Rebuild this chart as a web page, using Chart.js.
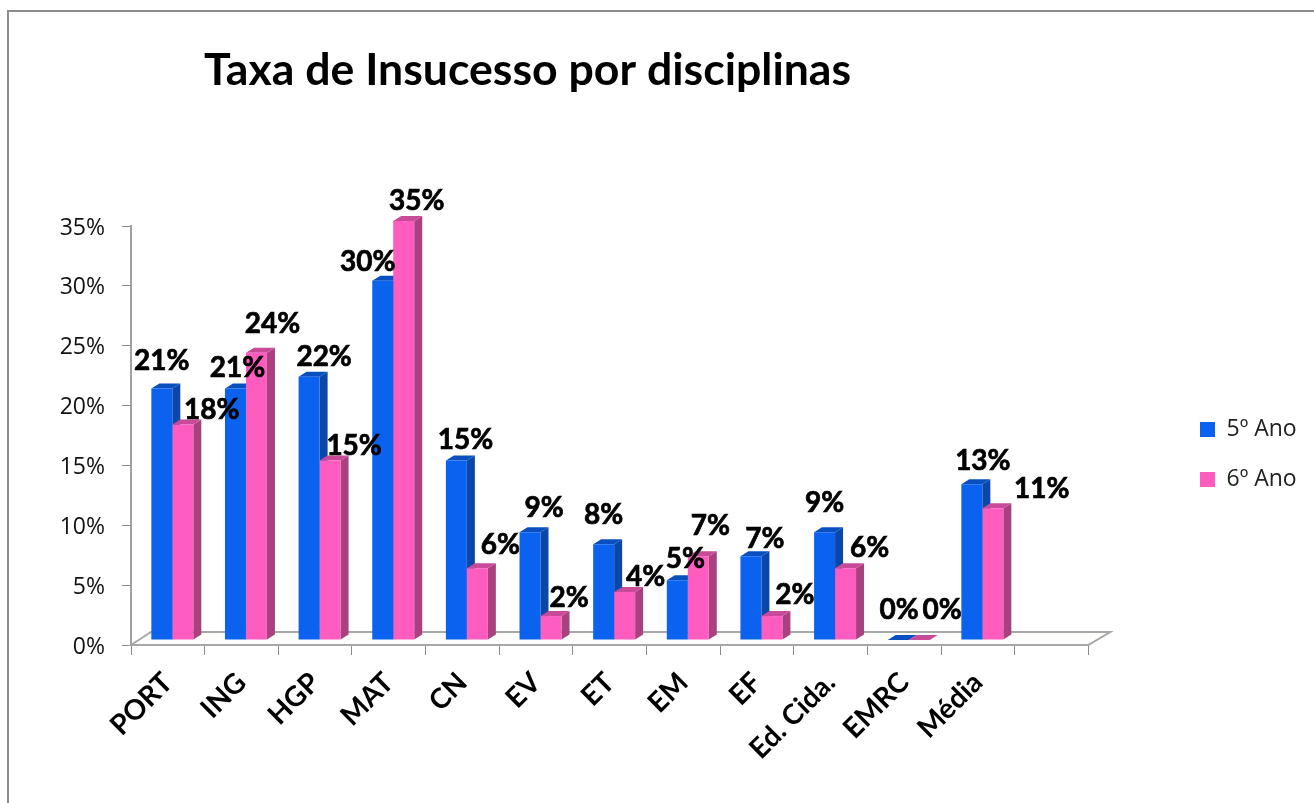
<!DOCTYPE html>
<html><head><meta charset="utf-8">
<script src="https://cdn.jsdelivr.net/npm/chart.js@4"></script>
<style>
html,body{margin:0;padding:0;background:#fff;overflow:hidden}
#frame{position:absolute;left:7px;top:10px;width:1320px;height:800px;border:2px solid #8c8c8c;box-sizing:border-box}
canvas{position:absolute;left:0;top:0}
</style></head><body>
<div id="frame"></div>
<canvas id="c" width="1314" height="803"></canvas>
<script>
const categories = ['PORT','ING','HGP','MAT','CN','EV','ET','EM','EF','Ed. Cida.','EMRC','Média',''];
const ano5 = [21,21,22,30,15,9,8,5,7,9,0,13,null];
const ano6 = [18,24,15,35,6,2,4,7,2,6,0,11,null];
const yTickStep = 5;
const chartTitle = 'Taxa de Insucesso por disciplinas';

const labelNudge = [
 [[0,-28],[2,-21],[15,-20],[-15,-19],[9,-20],[14,-24],[0,-29],[8,-21],[14,-17],[0,-29],[1,-30],[11,-23]],
 [[29,-15],[16,-29],[24,-14],[13,-20],[23,-23],[18,-18],[21,-15],[12,-30],[23,-21],[24,-20],[23,-30],[49,-19]]
];
const SHIFT = {x:4.5,y:-5}, DEPTH = {x:8,y:5};
const SIDE = ['#0a47a8','#a9417f'], TOP = ['#0a4fc0','#c94a98'];

const threeD = {
  id:'threeD',
  afterLayout(chart){
    chart.titleBlock.left = 204;
    const lg = chart.legend, w = lg.right-lg.left, h = lg.bottom-lg.top;
    lg.left = 1173; lg.right = lg.left+w+40;
    lg.top = 391; lg.bottom = lg.top+Math.max(h,160);
    const yS = chart.scales.y;
    if(!yS._nudged){
      const orig = yS.drawLabels;
      yS.drawLabels = function(a){ chart.ctx.save(); chart.ctx.translate(0,2); orig.call(this,a); chart.ctx.restore(); };
      yS._nudged = true;
    }
  },
  beforeDatasetsDraw(chart){
    const {ctx,chartArea:a} = chart;
    ctx.save();
    ctx.strokeStyle='#a8a8a8'; ctx.lineWidth=2; ctx.fillStyle='#fdfdfb';
    ctx.beginPath();
    ctx.moveTo(a.left,a.bottom); ctx.lineTo(a.left+20,a.bottom-13);
    ctx.lineTo(a.right+22,a.bottom-13); ctx.lineTo(a.right,a.bottom);
    ctx.closePath(); ctx.fill(); ctx.stroke();
    ctx.restore();
    ctx.save();
    ctx.translate(SHIFT.x,SHIFT.y);
    chart.data.datasets.forEach((ds,di)=>{
      chart.getDatasetMeta(di).data.forEach((el,i)=>{
        if(ds.data[i]===null) return;
        const l=el.x-el.width/2,r=el.x+el.width/2,t=el.y,b=el.base;
        ctx.fillStyle=SIDE[di];
        ctx.beginPath();ctx.moveTo(r,t);ctx.lineTo(r+DEPTH.x,t-DEPTH.y);ctx.lineTo(r+DEPTH.x,b-DEPTH.y);ctx.lineTo(r,b);ctx.closePath();ctx.fill();
        ctx.fillStyle=TOP[di];
        ctx.beginPath();ctx.moveTo(l,t);ctx.lineTo(l+DEPTH.x,t-DEPTH.y);ctx.lineTo(r+DEPTH.x,t-DEPTH.y);ctx.lineTo(r,t);ctx.closePath();ctx.fill();
      });
    });
  },
  afterDatasetsDraw(chart){
    const {ctx}=chart;
    ctx.restore();
    ctx.save();
    ctx.font='bold 28px Lato';ctx.fillStyle='#000';ctx.strokeStyle='#000';ctx.lineWidth=0.7;
    ctx.textAlign='center';ctx.textBaseline='middle';
    chart.data.datasets.forEach((ds,di)=>{
      chart.getDatasetMeta(di).data.forEach((el,i)=>{
        if(ds.data[i]===null) return;
        const n=labelNudge[di][i], x=el.x+SHIFT.x+n[0], y=el.y+SHIFT.y+n[1];
        ctx.fillText(ds.data[i]+'%',x,y);
        ctx.strokeText(ds.data[i]+'%',x,y);
      });
    });
    ctx.restore();
  }
};

new Chart(document.getElementById('c'),{
  type:'bar',
  data:{labels:categories,datasets:[
    {label:'5º Ano',data:ano5,backgroundColor:'#0a62ee',borderWidth:0,clip:false,barPercentage:1,categoryPercentage:0.57},
    {label:'6º Ano',data:ano6,backgroundColor:'#ff5cbf',borderWidth:0,clip:false,barPercentage:1,categoryPercentage:0.57}
  ]},
  plugins:[threeD],
  options:{
    responsive:false,animation:false,
    layout:{padding:{left:0,right:92,top:0,bottom:0}},
    plugins:{
      tooltip:{enabled:false},
      title:{display:true,text:chartTitle,align:'start',color:'#000',
        font:{family:'Lato',size:44.6,weight:'bold',lineHeight:1},padding:{top:48,bottom:133.4}},
      legend:{display:true,position:'right',align:'start',
        labels:{boxWidth:15,boxHeight:15,padding:27,color:'#222',font:{family:'Open Sans',size:23}}}
    },
    scales:{
      x:{offset:true,
        grid:{display:true,drawOnChartArea:false,drawTicks:true,tickLength:10,color:'#8c8c8c',offset:true},
        border:{display:true,color:'#a0a0a0',width:2},
        ticks:{autoSkip:false,minRotation:45,maxRotation:45,color:'#000',padding:11,font:{family:'Lato',size:28,weight:'bold'}},
        afterFit(s){s.height=158;}
      },
      y:{min:0,max:35,
        grid:{display:true,drawOnChartArea:false,tickLength:9,color:'#8c8c8c'},
        border:{display:true,color:'#a0a0a0',width:2},
        ticks:{stepSize:yTickStep,color:'#111',padding:17,font:{family:'Open Sans',size:23},callback:v=>v+'%'},
        afterFit(s){s.width=131;}
      }
    }
  }
});
</script></body></html>
